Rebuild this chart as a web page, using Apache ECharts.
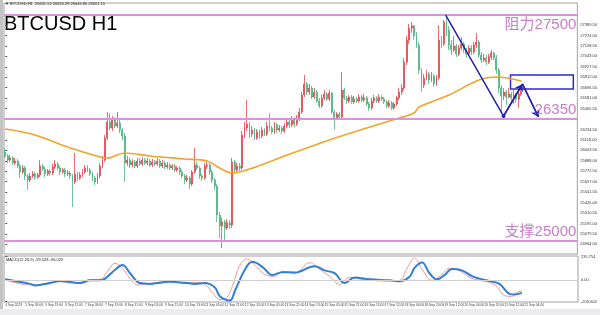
<!DOCTYPE html>
<html><head><meta charset="utf-8">
<script src="https://cdn.jsdelivr.net/npm/echarts@6/dist/echarts.min.js"></script>
<style>html,body{margin:0;padding:0;background:#fff}#c{width:600px;height:315px}</style>
</head><body><div id="c"></div>
<script>
// ---- candle data (2-hour bars) ----
const open=[
25985,25941,25896,25919,25863,25885,25830,25764,25808,25720,
25675,25720,25742,25708,25731,25830,25797,25742,25775,25753,
25819,25852,25808,25764,25786,25742,25753,25720,25653,25742,
25697,25731,25764,25808,25786,25742,25697,25653,25720,25830,
25896,26140,26317,26250,26339,26273,26306,26228,26162,25863,
25896,25841,25874,25830,25885,25852,25896,25863,25885,25841,
25874,25852,25885,25830,25863,25819,25841,25808,25830,25786,
25808,25764,25720,25675,25697,25631,25764,25841,25808,25720,
25697,25830,25841,25764,25675,25609,25288,25166,25211,25144,
25200,25177,25874,25786,25830,25808,26173,26250,26295,26184,
26228,26140,26206,26162,26228,26184,26273,26250,26206,26284,
26228,26250,26217,26273,26317,26284,26350,26295,26361,26427,
26615,26737,26648,26693,26593,26648,26549,26494,26582,26626,
26571,26637,26427,26361,26405,26372,26671,26582,26549,26593,
26538,26571,26549,26593,26560,26582,26516,26472,26549,26582,
26549,26593,26571,26538,26494,26527,26472,26516,26582,26648,
26693,26980,27224,27356,27378,27268,27168,26892,26726,26803,
26848,26781,26825,26737,26803,27224,27179,27423,27334,27168,
27113,27157,27069,27135,27179,27113,27069,27135,27091,27168,
27201,27058,27002,27025,26980,27036,27080,27025,26892,26693,
26604,26648,26593,26626,26582,26615,26571,26626];
const close=[
25941,25896,25919,25863,25885,25830,25764,25808,25720,25675,
25720,25742,25708,25731,25830,25797,25742,25775,25753,25819,
25852,25808,25764,25786,25742,25753,25720,25653,25742,25697,
25731,25764,25808,25786,25742,25697,25653,25720,25830,25896,
26140,26317,26250,26339,26273,26306,26228,26162,25863,25896,
25841,25874,25830,25885,25852,25896,25863,25885,25841,25874,
25852,25885,25830,25863,25819,25841,25808,25830,25786,25808,
25764,25720,25675,25697,25631,25764,25841,25808,25720,25697,
25830,25841,25764,25675,25609,25288,25166,25211,25144,25200,
25177,25874,25786,25830,25808,26173,26250,26295,26184,26228,
26140,26206,26162,26228,26184,26273,26250,26206,26284,26228,
26250,26217,26273,26317,26284,26350,26295,26361,26427,26615,
26737,26648,26693,26593,26648,26549,26494,26582,26626,26571,
26637,26427,26361,26405,26372,26671,26582,26549,26593,26538,
26571,26549,26593,26560,26582,26516,26472,26549,26582,26549,
26593,26571,26538,26494,26527,26472,26516,26582,26648,26693,
26980,27224,27356,27378,27268,27168,26892,26726,26803,26848,
26781,26825,26737,26803,27224,27179,27423,27334,27168,27113,
27157,27069,27135,27179,27113,27069,27135,27091,27168,27201,
27058,27002,27025,26980,27036,27080,27025,26892,26693,26604,
26648,26593,26626,26582,26615,26571,26626,26651];
const low=[
25919,25863,25874,25841,25841,25808,25697,25742,25675,25565,
25653,25697,25675,25686,25708,25775,25708,25720,25720,25731,
25797,25786,25731,25742,25708,25720,25686,25376,25631,25664,
25675,25708,25742,25764,25720,25664,25620,25631,25697,25808,
25874,26118,26228,26217,26250,26250,26195,26118,25653,25830,
25808,25819,25808,25808,25830,25830,25841,25841,25819,25819,
25830,25830,25808,25808,25797,25797,25786,25786,25764,25764,
25731,25697,25631,25653,25576,25609,25742,25786,25686,25664,
25675,25797,25731,25642,25565,25211,25034,24923,25012,25122,
25133,25144,25753,25764,25775,25786,26140,26217,26140,26151,
26118,26118,26129,26140,26162,26162,26217,26184,26184,26195,
26206,26184,26195,26250,26250,26261,26261,26273,26328,26405,
26593,26615,26615,26571,26571,26527,26472,26472,26560,26549,
26549,26405,26228,26339,26339,26361,26560,26516,26527,26516,
26516,26527,26527,26538,26538,26494,26439,26450,26527,26527,
26527,26549,26516,26472,26472,26450,26450,26494,26560,26615,
26671,26947,27179,27301,27224,27135,26848,26648,26693,26781,
26737,26759,26704,26715,26781,27135,27157,27268,27113,27058,
27091,27036,27047,27113,27080,27036,27047,27058,27069,27135,
27025,26969,26980,26947,26958,27002,27002,26848,26637,26416,
26560,26505,26582,26538,26516,26527,26472,26604];
const high=[
26029,25963,25952,25941,25919,25908,25852,25841,25830,25742,
25753,25775,25764,25753,25896,25852,25819,25797,25797,25852,
25896,25874,25830,25808,25808,25786,25775,25742,25974,25764,
25764,25797,25841,25841,25808,25764,25720,25753,25863,25941,
26173,26427,26416,26383,26372,26427,26339,26250,26195,25941,
25919,25908,25896,25919,25919,25930,25919,25919,25908,25908,
25896,25919,25908,25896,25885,25874,25863,25852,25852,25830,
25830,25786,25742,25731,25720,25786,26029,25874,25830,25742,
25863,25874,25863,25786,25697,25631,25321,25255,25233,25244,
25233,25919,25896,25863,25863,26217,26317,26560,26317,26273,
26250,26239,26228,26261,26250,26317,26416,26273,26317,26306,
26284,26273,26306,26350,26339,26383,26372,26394,26472,26648,
26837,26759,26737,26715,26693,26671,26582,26615,26671,26648,
26671,26648,26450,26427,26427,26870,26693,26604,26615,26615,
26604,26593,26626,26615,26626,26604,26538,26582,26615,26604,
26626,26615,26593,26560,26560,26549,26538,26604,26693,26737,
27025,27268,27401,27423,27390,27312,27201,26914,26848,26892,
26870,26870,26848,26837,27390,27268,27445,27511,27378,27224,
27268,27179,27168,27257,27201,27135,27168,27168,27201,27301,
27224,27091,27069,27058,27069,27113,27091,27058,26914,26726,
26693,26671,26693,26648,26671,26637,26671,26671];

// moving average (orange) read at bar positions
const maIdx=[0,12,25,38,41,48,58,72,81,86,91,98,110,130,145,158,164,166,178,190,197,207];
const maVal=[26239,26173,26040,25930,25919,25974,25941,25908,25885,25808,25753,25797,25919,26118,26250,26361,26416,26483,26615,26781,26814,26770];

// oscillator lines
const blueIdx=[0,10,12,18,22,26,30,34,38,40,44,47,50,54,58,66,72,76,80,84,86,90,92,96,99,103,107,111,116,124,128,132,136,140,146,154,158,162,164,167,170,173,176,179,183,187,190,194,198,202,204,207];
const blueVal=[10,-35,-50,-27,-7,-17,-27,0,0,17,106,152,71,-27,-35,-14,-24,-35,-27,-71,-159,-201,-106,106,184,134,53,81,78,141,99,71,-27,28,10,0,-10,35,124,177,71,10,53,113,99,42,17,-7,-35,-134,-141,-124];
const redIdx=[0,10,14,18,22,26,30,34,38,41,44,47,50,53,58,66,72,76,80,83,86,88,91,94,97,100,104,108,111,116,122,126,130,134,138,144,152,158,161,164,167,171,175,178,182,186,190,194,197,200,203,205,207];
const redVal=[5,-45,-40,-20,-10,-25,-20,5,10,90,170,120,20,-45,-30,-10,-30,-20,-40,-120,-190,-185,-60,150,212,150,60,40,90,70,175,110,40,-40,30,5,-5,0,120,219,110,0,60,120,95,30,0,-20,-60,-150,-159,-120,-106];

// axis labels
const timeLabels=["4 Sep 2023","5 Sep 03:00","5 Sep 19:00","6 Sep 11:00","7 Sep 03:00","7 Sep 19:00","8 Sep 11:00","9 Sep 03:00","9 Sep 21:00","10 Sep 13:00","11 Sep 05:00","11 Sep 21:00","12 Sep 13:00","13 Sep 05:00","13 Sep 21:00","14 Sep 13:00","15 Sep 05:00","15 Sep 21:00","16 Sep 13:00","17 Sep 12:00","18 Sep 04:00","18 Sep 20:00","19 Sep 12:00","20 Sep 04:00","20 Sep 20:00","21 Sep 12:00","22 Sep 04:00"];
const priceTicks=[27389.5,27274,27158.5,27043,26927.5,26812,26696.5,26581,26465.5,26234.5,26119,26003.5,25888,25772.5,25657,25541.5,25426,25310.5,25195,25079.5,24964,24848.5];
const oscTicks=[235.754,0,-209.004];

// annotations
const levels=[27500,26350,25000];
const levelText=['阻力27500','26350','支撑25000'];
const lastPrice=26651.15;
const zigX=[176.7,199.9,207.5,213.9];
const zigY=[27500,26383,26737,26372];
const boxX=[202.7,227.9];
const boxY=[26682,26837];

const N_CATS=230;
const cats=[];for(let i=0;i<N_CATS;i++)cats.push(String(i));
const candles=open.map((o,i)=>[o,close[i],low[i],high[i]]);
const font='Liberation Sans, Arial, sans-serif';
const cjk='Liberation Sans, "Noto Sans CJK SC", sans-serif';
const blue='#2424a8';

const chart=echarts.init(document.getElementById('c'),null,{renderer:'canvas'});
chart.setOption({
  animation:false,
  backgroundColor:'#ffffff',
  grid:[
    {left:4,top:3,width:574,height:251,show:true,borderColor:'#a0a0a0',borderWidth:1},
    {left:4,top:256,width:574,height:46,show:true,borderColor:'#a0a0a0',borderWidth:1}
  ],
  xAxis:[
    {type:'category',gridIndex:0,data:cats,boundaryGap:true,axisLine:{show:false},axisTick:{show:false},axisLabel:{show:false},splitLine:{show:false}},
    {type:'value',gridIndex:0,min:-0.5,max:N_CATS-0.5,show:false},
    {type:'category',gridIndex:1,data:cats,boundaryGap:true,axisLine:{show:false},
     axisTick:{show:false},
     axisLabel:{interval:(i)=>i%8===0&&i/8<timeLabels.length,formatter:(v,i)=>timeLabels[i/8]||'',fontSize:3.3,color:'#444',align:'left',margin:2,fontFamily:font},splitLine:{show:false}},
    {type:'value',gridIndex:1,min:-0.5,max:N_CATS-0.5,show:false}
  ],
  yAxis:[
    {type:'value',gridIndex:0,position:'right',min:24857,max:27633,scale:true,
     axisLine:{show:false},splitLine:{show:false},
     axisTick:{show:true,length:2,customValues:priceTicks,lineStyle:{color:'#555'}},
     axisLabel:{customValues:priceTicks,formatter:v=>v.toFixed(2),fontSize:4,color:'#333',margin:3,fontFamily:font}},
    {type:'value',gridIndex:1,position:'right',min:-215,max:242,
     axisLine:{show:false},splitLine:{show:false},
     axisTick:{show:true,length:2,customValues:oscTicks,lineStyle:{color:'#555'}},
     axisLabel:{customValues:oscTicks,formatter:v=>v===0?'0.00':v.toFixed(3),fontSize:4,color:'#333',margin:3,fontFamily:font}}
  ],
  series:[
    {type:'candlestick',name:'BTCUSD',xAxisIndex:0,yAxisIndex:0,data:candles,barWidth:1.4,
     itemStyle:{color:'#e4474c',color0:'#4db37f',borderColor:'#e4474c',borderColor0:'#4db37f',borderWidth:0.8},
     markLine:{silent:true,symbol:'none',animation:false,
       lineStyle:{color:'#dc90e2',width:2,type:'solid'},
       data:levels.map((v,k)=>({yAxis:v,label:{show:true,position:k===0?'insideEndBottom':'insideEndTop',formatter:levelText[k],color:'#c97ccb',fontSize:15,fontFamily:cjk,distance:[1,2]}}))}},
    {type:'line',name:'MA',xAxisIndex:1,yAxisIndex:0,data:maIdx.map((x,i)=>[x,maVal[i]]),smooth:0.35,showSymbol:false,
     lineStyle:{color:'#f4a32a',width:1.6},z:3,
     markLine:{silent:true,symbol:'none',animation:false,lineStyle:{opacity:0},
       data:levels.map(v=>({yAxis:v,label:{show:true,position:'end',distance:2,formatter:()=>v.toFixed(2),backgroundColor:'#dc90e2',color:'#fff',fontSize:4,padding:[1,2],fontFamily:font}}))
         .concat([{yAxis:lastPrice,label:{show:true,position:'end',distance:2,formatter:()=>lastPrice.toFixed(2),backgroundColor:'#111',color:'#fff',fontSize:4,padding:[1,2],fontFamily:font}}])}},
    {type:'line',name:'zigzag',xAxisIndex:1,yAxisIndex:0,data:zigX.map((x,i)=>[x,zigY[i]]),
     showSymbol:true,symbol:'circle',symbolSize:(v,p)=>p.dataIndex===1?4:0,itemStyle:{color:blue},
     lineStyle:{color:blue,width:1.5},z:5,
     markLine:{silent:true,animation:false,lineStyle:{color:blue,width:1.5,type:'solid'},label:{show:false},
       data:[
         [{coord:[zigX[1],zigY[1]],symbol:'none'},{coord:[zigX[2],zigY[2]],symbol:'arrow',symbolSize:7}],
         [{coord:[zigX[2],zigY[2]],symbol:'none'},{coord:[zigX[3],zigY[3]],symbol:'arrow',symbolSize:7}]
       ]},
     markArea:{silent:true,itemStyle:{color:'rgba(0,0,0,0)',borderColor:'#2a2ad4',borderWidth:1.5},
       data:[[{coord:[boxX[0],boxY[1]]},{coord:[boxX[1],boxY[0]]}]]}},
    {type:'line',name:'signal',xAxisIndex:3,yAxisIndex:1,data:blueIdx.map((x,i)=>[x,blueVal[i]]),smooth:0.4,showSymbol:false,
     lineStyle:{color:'#2f7fd8',width:2},z:4,
     markLine:{silent:true,symbol:'none',animation:false,lineStyle:{color:'#cfcfcf',width:1,type:'solid'},label:{show:false},data:[{yAxis:0}]}},
    {type:'line',name:'main',xAxisIndex:3,yAxisIndex:1,data:redIdx.map((x,i)=>[x,redVal[i]]),smooth:0.4,showSymbol:false,
     lineStyle:{color:'#f39595',width:1},z:3}
  ],
  graphic:[
    {type:'rect',left:0,top:0,shape:{width:3,height:315},style:{fill:'#c4c4c4'},silent:true},
    {type:'rect',left:0,top:309,shape:{width:600,height:6},style:{fill:'#ececef'},silent:true},
    {type:'text',left:5,top:2,style:{text:'▼ BTCUSD,H1  26651.52 26655.28 26646.80 26651.15',font:'4px '+font,fill:'#222'},silent:true},
    {type:'text',left:4,top:14,style:{text:'BTCUSD H1',font:'20px '+font,fill:'#000'},silent:true},
    {type:'text',left:6,top:258,style:{text:'MACD(12,26,9) -99.528 -96.029',font:'4px '+font,fill:'#222'},silent:true}
  ]
});
</script></body></html>
